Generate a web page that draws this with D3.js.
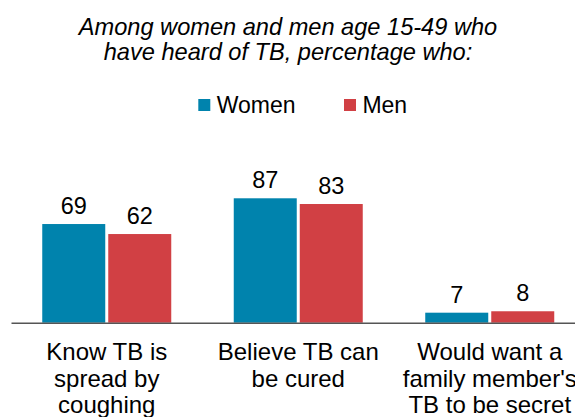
<!DOCTYPE html>
<html>
<head>
<meta charset="utf-8">
<script src="https://cdn.jsdelivr.net/npm/d3@7"></script>
<style>
  html, body { margin: 0; padding: 0; background: #fff; }
  svg { display: block; font-family: "Liberation Sans", Arial, sans-serif; }
</style>
</head>
<body>
<svg id="chart" width="575" height="417"></svg>
<script>
const categories = ["Know TB is spread by coughing", "Believe TB can be cured", "Would want a family member's TB to be secret"];
const categoryLines = [["Know TB is", "spread by", "coughing"], ["Believe TB can", "be cured"], ["Would want a", "family member's", "TB to be secret"]];
const series = ["Women", "Men"];
const women = [69, 87, 7];
const men = [62, 83, 8];
const titleLines = ["Among women and men age 15-49 who", "have heard of TB, percentage who:"];
const colors = ["#0083AD", "#D14044"];

const svg = d3.select("#chart");
const baseY = 322.7;

const x0 = d3.scaleBand().domain(categories).range([11, 585.5]).paddingInner(0).paddingOuter(0);
const x1 = d3.scaleBand().domain(series).range([0, x0.bandwidth()]).paddingInner(0.04545).paddingOuter(0.4735);
const y = d3.scaleLinear().domain([0, 100]).range([baseY, baseY - 143]);
const color = d3.scaleOrdinal().domain(series).range(colors);

const values = { Women: women, Men: men };

// Title
svg.append("g").selectAll("text").data(titleLines).join("text")
  .attr("x", 288).attr("y", (d, i) => 35 + i * 25)
  .attr("text-anchor", "middle")
  .attr("font-size", 23.6).attr("font-style", "italic").attr("fill", "#000")
  .text(d => d);

// Legend
const legendPos = [198.3, 344];
const lg = svg.append("g").selectAll("g").data(series).join("g")
  .attr("transform", (d, i) => `translate(${legendPos[i]},0)`);
lg.append("rect").attr("x", 0).attr("y", 99).attr("width", 12).attr("height", 12)
  .attr("fill", d => color(d));
lg.append("text").attr("x", 18.4).attr("y", 113.3).attr("font-size", 23).attr("fill", "#000").text(d => d);

// Bars
const groups = svg.append("g").selectAll("g").data(categories).join("g")
  .attr("transform", d => `translate(${x0(d)},0)`);

groups.selectAll("rect").data((d, i) => series.map(s => ({ s, v: values[s][i] }))).join("rect")
  .attr("x", d => x1(d.s)).attr("width", x1.bandwidth())
  .attr("y", d => y(d.v)).attr("height", d => y(0) - y(d.v))
  .attr("fill", d => color(d.s));

groups.selectAll("text.val").data((d, i) => series.map(s => ({ s, v: values[s][i] }))).join("text")
  .attr("class", "val")
  .attr("x", d => x1(d.s) + x1.bandwidth() / 2)
  .attr("y", d => y(d.v) - 10)
  .attr("text-anchor", "middle").attr("font-size", 23.5).attr("fill", "#000")
  .text(d => d.v);

// Axis
const axis = svg.append("g").attr("transform", `translate(0,${baseY})`)
  .call(d3.axisBottom(x0).tickSize(0).tickFormat(""));
axis.select(".domain").attr("stroke", "#555").attr("stroke-width", 1.5);

// Category labels
svg.append("g").selectAll("text").data(categories).join("text")
  .attr("text-anchor", "middle").attr("font-size", 24).attr("fill", "#000")
  .attr("transform", d => `translate(${x0(d) + x0.bandwidth() / 2},0)`)
  .selectAll("tspan").data((d, i) => categoryLines[i]).join("tspan")
  .attr("x", 0).attr("y", (d, i) => 360 + i * 26.7)
  .text(d => d);
</script>
</body>
</html>
